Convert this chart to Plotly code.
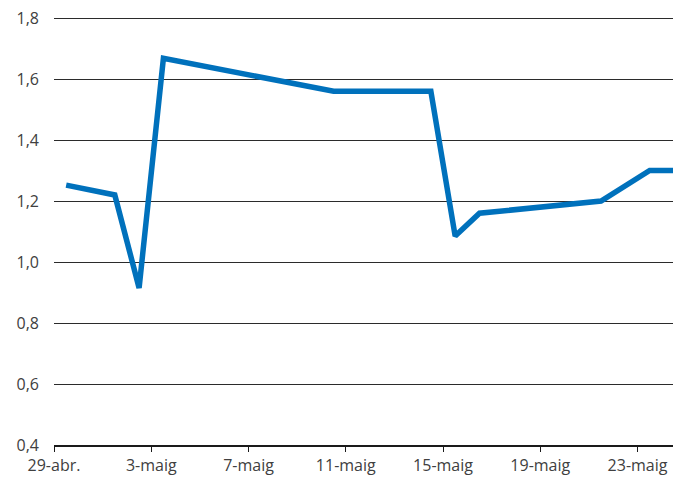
import plotly.graph_objects as go

dates = ["2024-04-29", "2024-05-01", "2024-05-02", "2024-05-03", "2024-05-10",
         "2024-05-14", "2024-05-15", "2024-05-16", "2024-05-21", "2024-05-23", "2024-05-24"]
values = [1.252, 1.22, 0.915, 1.668, 1.56, 1.56, 1.085, 1.16, 1.2, 1.30, 1.30]

tick_dates = ["2024-04-29", "2024-05-03", "2024-05-07", "2024-05-11",
              "2024-05-15", "2024-05-19", "2024-05-23"]
tick_labels = ["29-abr.", "3-maig", "7-maig", "11-maig", "15-maig", "19-maig", "23-maig"]
y_ticks = [0.4, 0.6, 0.8, 1.0, 1.2, 1.4, 1.6, 1.8]

fig = go.Figure()
fig.add_trace(go.Scatter(
    x=dates, y=values, mode="lines",
    xperiod=86400000, xperiodalignment="middle",
    line=dict(color="#0071BC", width=5.5, shape="linear"),
    hoverinfo="skip",
))

fig.update_layout(
    width=682, height=469,
    margin=dict(l=46, r=17, t=7, b=32, autoexpand=False),
    paper_bgcolor="white", plot_bgcolor="white",
    separators=",.",
    showlegend=False,
    font=dict(family="Open Sans", size=16, color="#404040"),
)
fig.update_xaxes(
    type="date",
    range=["2024-04-29 00:00", "2024-05-24 11:00"],
    tickvals=tick_dates, ticktext=tick_labels,
    showgrid=False, zeroline=False,
    showline=True, linecolor="#1a1a1a", linewidth=1.5,
    ticks="outside", ticklen=5, tickcolor="#1a1a1a", tickwidth=1,
    tickfont=dict(size=16, color="#404040"),
    ticklabeloverflow="allow",
    automargin=False,
)
fig.update_yaxes(
    range=[0.4, 1.81], tickvals=y_ticks, tickformat=".1f",
    showgrid=True, gridcolor="#2b2b2b", gridwidth=1,
    zeroline=False, showline=False, ticks="",
    ticklabelstandoff=14,
    ticklabeloverflow="allow",
    tickfont=dict(size=16, color="#404040"),
    automargin=False,
)

fig.write_html("out.html")
